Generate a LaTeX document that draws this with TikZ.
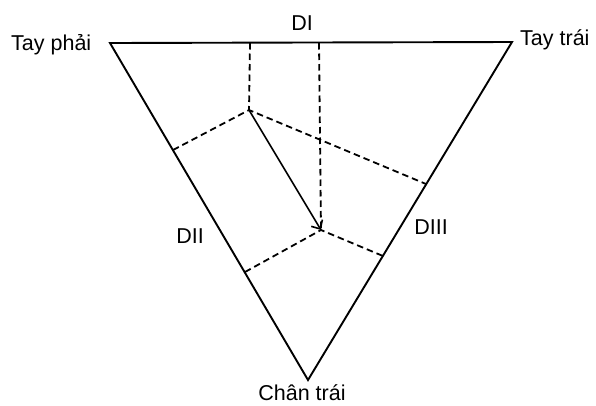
\documentclass[tikz,border=0pt]{standalone}
\usepackage{fontspec}
\setmainfont{Liberation Sans}
\usetikzlibrary{arrows.meta,calc}
\begin{document}
\begin{tikzpicture}[x=1pt,y=-1pt,
  side/.style={line width=1.9pt,line join=miter},
  proj/.style={line width=1.8pt,dash pattern=on 6.5pt off 4pt},
  vec/.style={line width=1.6pt,-{Straight Barb[length=7pt,width=13pt]}},
  lbl/.style={font=\fontsize{21.5}{25}\selectfont,inner sep=0pt,anchor=base}]
\useasboundingbox (0,0) rectangle (596,405);
% triangle vertices
\coordinate (R) at (110,43);
\coordinate (L) at (512,42);
\coordinate (F) at (308,380);
% vector ends
\coordinate (A) at (249,110);
\coordinate (B) at (321,230);
% projection feet
\coordinate (A1) at (250,43);
\coordinate (B1) at (319,43);
\coordinate (A2) at (173,150);
\coordinate (B2) at (245,272);
\coordinate (A3) at (426,184);
\coordinate (B3) at (383,256);
\draw[side] (R) -- (L) -- (F) -- cycle;
\draw[proj] (A1) -- (A);
\draw[proj] (B1) -- (B);
\draw[proj] (A2) -- (A) -- (A3);
\draw[proj] (B2) -- (B) -- (B3);
\draw[vec] (A) -- (B);
\node[lbl,anchor=base west] (tp) at (11,50) {Tay phải};
\node[lbl,anchor=base west] (tt) at (520,45) {Tay trái};
\node[lbl] (d1) at (302,30) {DI};
\node[lbl] (d2) at (190,243) {DII};
\node[lbl] (d3) at (431,234) {DIII};
\node[lbl] (ct) at (302,400) {Chân trái};
\end{tikzpicture}
\end{document}
